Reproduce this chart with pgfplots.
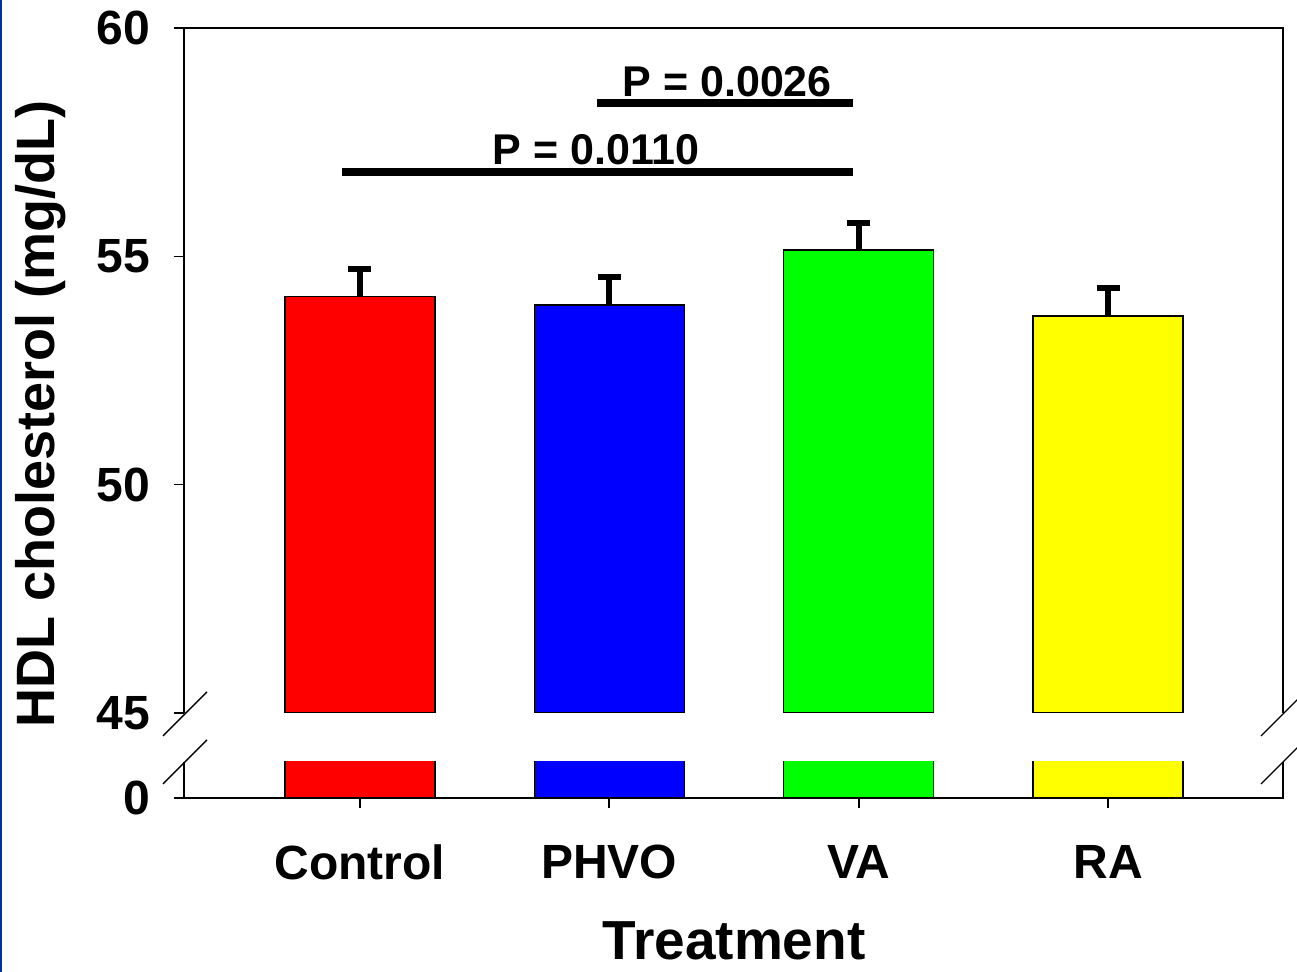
\documentclass[border=0pt]{standalone}
\usepackage{fontspec}
\setmainfont{Liberation Sans}
\usepackage{pgfplots}
\pgfplotsset{compat=1.18}
\definecolor{slideblue}{RGB}{0,51,160}
\definecolor{puregreen}{RGB}{0,255,0}
\definecolor{pureyellow}{RGB}{255,255,0}
\begin{document}
\begin{tikzpicture}
\useasboundingbox (0,0) rectangle (648.5pt,486pt);
\pgfplotsset{
  common/.style={scale only axis, width=549.5pt, xmin=-0.705, xmax=3.701,
    axis line style={draw=none}, tick align=outside, major tick length=5pt,
    tick style={line width=0.8pt,black},
    ticklabel style={font=\fontsize{24}{28}\selectfont\bfseries},
    yticklabel style={xshift=-8.5pt},
    xticklabel style={yshift=-15pt},
    /pgf/number format/assume math mode=true,
    ybar, bar width=75pt, anchor=south west},
  barstyle/.style={fill=#1, draw=black, line width=0.75pt, bar shift=0pt},
  errstyle/.style={error bars/.cd, y dir=plus, y explicit,
    error bar style={line width=3.2pt,black},
    error mark options={rotate=90, mark size=5.75pt, line width=3pt, black}},
}
\begin{axis}[common, at={(92pt,129.5pt)}, height=342.5pt,
  ymin=45, ymax=60, ytick={45,50,55,60}, yticklabels={45,50,55,60},
  xtick=\empty, ytick pos=left]
\addplot[barstyle=red, errstyle] coordinates {(0,54.12) +- (0,0.60)};
\addplot[barstyle=blue, errstyle] coordinates {(1,53.93) +- (0,0.62)};
\addplot[barstyle=puregreen, errstyle] coordinates {(2,55.14) +- (0,0.59)};
\addplot[barstyle=pureyellow, errstyle] coordinates {(3,53.69) +- (0,0.62)};
\draw[line width=4pt] (axis cs:-0.072,56.84) -- (axis cs:1.976,56.84);
\draw[line width=4pt] (axis cs:0.950,58.35) -- (axis cs:1.976,58.35);
\node[anchor=base, inner sep=0pt, font=\fontsize{21.5}{24}\selectfont\bfseries] at (axis cs:0.948,57.0) {P = 0.0110};
\node[anchor=base, inner sep=0pt, font=\fontsize{21.5}{24}\selectfont\bfseries] at (axis cs:1.473,58.50) {P = 0.0026};
\end{axis}
\begin{axis}[common, at={(92pt,87pt)}, height=18pt,
  ymin=0, ymax=1, ytick={0}, yticklabels={0}, ytick pos=left,
  xtick={0,1,2,3}, xticklabels={Control,PHVO,VA,RA}, xtick pos=bottom]
\addplot[barstyle=red] coordinates {(0,5)};
\addplot[barstyle=blue] coordinates {(1,5)};
\addplot[barstyle=puregreen] coordinates {(2,5)};
\addplot[barstyle=pureyellow] coordinates {(3,5)};
\end{axis}
\begin{scope}[x=0.5pt,y=-0.5pt,yshift=486pt]
  \draw[line width=0.8pt] (184,713) -- (184,28) -- (1283,28) -- (1283,713);
  \draw[line width=0.8pt] (184,762) -- (184,798) -- (1283,798) -- (1283,762);
  \draw[line width=0.7pt] (163,736) -- (207,692);
  \draw[line width=0.7pt] (163,784) -- (207,740);
  \draw[line width=0.7pt] (1261,736) -- (1305,692);
  \draw[line width=0.7pt] (1261,784) -- (1305,740);
  \draw[line width=1.2pt, slideblue] (1.2,0) -- (1.2,972);
  \node[rotate=90, anchor=base, inner sep=0pt, font=\fontsize{27}{30}\selectfont\bfseries] at (55,414) {HDL cholesterol (mg/dL)};
  \node[anchor=base, inner sep=0pt, font=\fontsize{27.5}{30}\selectfont\bfseries] at (734,960) {Treatment};
\end{scope}
\end{tikzpicture}
\end{document}
